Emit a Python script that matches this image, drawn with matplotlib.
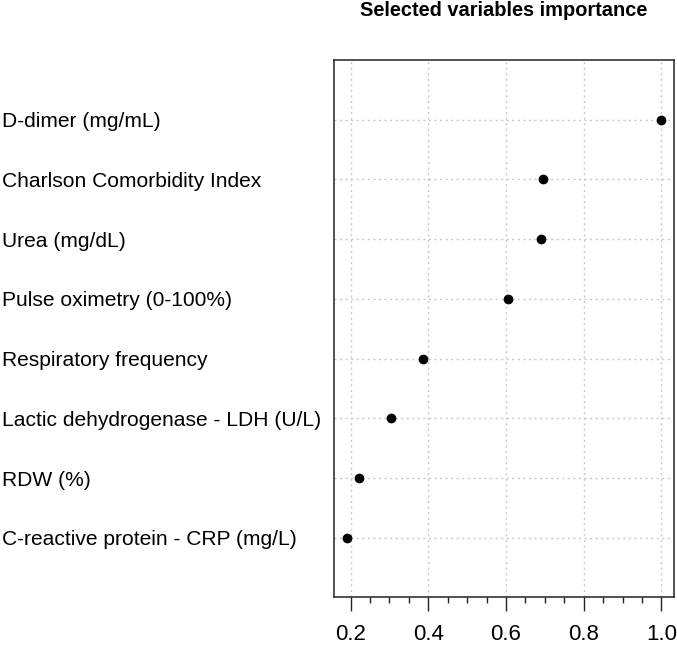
import matplotlib
matplotlib.use("Agg")
import matplotlib.pyplot as plt
from matplotlib.ticker import MultipleLocator

# variable importance, bottom row first (as the dotchart draws them)
variables = [
    "C-reactive protein - CRP (mg/L)",
    "RDW (%)",
    "Lactic dehydrogenase - LDH (U/L)",
    "Respiratory frequency",
    "Pulse oximetry (0-100%)",
    "Urea (mg/dL)",
    "Charlson Comorbidity Index",
    "D-dimer (mg/mL)",
]
importance = [0.190, 0.221, 0.303, 0.387, 0.605, 0.691, 0.694, 1.0]
x_ticks = [0.2, 0.4, 0.6, 0.8, 1.0]

plt.rcParams["font.family"] = ["Liberation Sans", "DejaVu Sans"]

fig = plt.figure(figsize=(6.77, 6.46), dpi=100)
ax = fig.add_axes([0.4934, 0.0751, 0.5022, 0.832])

rows = list(range(1, len(variables) + 1))

# dotted grid like R's dotchart
for r in rows:
    ax.axhline(r, color="#c8c8c8", linestyle=(0, (1.5, 2.5)), linewidth=1.0, zorder=1)
for t in x_ticks:
    ax.axvline(t, color="#c8c8c8", linestyle=(0, (1.5, 2.5)), linewidth=1.0, zorder=1)

ax.plot(importance, rows, "o", color="black", markersize=6, zorder=3)

# R style axis range: data range + 4%
span = max(importance) - min(importance)
ax.set_xlim(min(importance) - 0.04 * span, max(importance) + 0.04 * span)
ax.set_ylim(0, len(variables) + 1)

ax.set_xticks(x_ticks)
ax.set_xticklabels(["0.2", "0.4", "0.6", "0.8", "1.0"])
ax.xaxis.set_minor_locator(MultipleLocator(0.05))
ax.tick_params(axis="x", which="major", length=10, width=1.0, pad=9,
               labelsize=16, color="#222222")
ax.tick_params(axis="x", which="minor", length=4.5, width=1.0, color="#222222")

ax.set_yticks(rows)
ax.set_yticklabels(variables)
ax.tick_params(axis="y", length=0, pad=239, labelsize=15.1)
for lab in ax.get_yticklabels():
    lab.set_horizontalalignment("left")

for s in ax.spines.values():
    s.set_linewidth(1.1)
    s.set_color("#222222")

fig.text(0.744, 0.998, "Selected variables importance", ha="center", va="top",
         fontsize=14.4, fontweight="bold")

fig.savefig("out.png", dpi=100)
